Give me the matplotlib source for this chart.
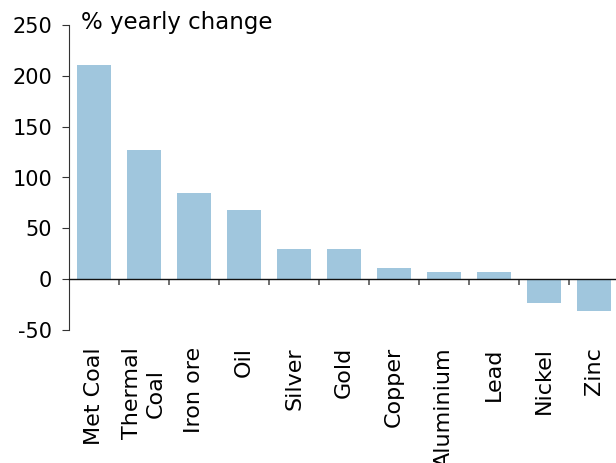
import matplotlib.pyplot as plt
import numpy as np

# commodities and their % yearly change
categorias = ['Met Coal', 'Thermal\nCoal', 'Iron ore', 'Oil', 'Silver', 'Gold',
              'Copper', 'Aluminium', 'Lead', 'Nickel', 'Zinc']
valores = [211, 127, 85, 68, 30, 30, 11, 7, 7, -23, -31]
y_ticks = [-50, 0, 50, 100, 150, 200, 250]

plt.rcParams['font.family'] = 'DejaVu Sans'

fig = plt.figure(figsize=(6.16, 4.63), dpi=100)
ax = fig.add_axes([69 / 616, 1 - 330 / 463, 550 / 616, 305 / 463])

x = np.arange(len(categorias))
ax.bar(x, valores, width=0.68, color='#a0c6dd', zorder=1)

ax.set_xlim(-0.5, len(categorias) - 0.5)
ax.set_ylim(-50, 250)

# ticks between categories on the zero line, labels placed below the plot
ax.tick_params(axis='x', which='major', length=0, pad=49, labelsize=16,
               labelrotation=90)
ax.tick_params(axis='x', which='minor', length=4, width=1.2, color='#555555',
               direction='out')
ax.tick_params(axis='y', length=5, width=0.8, color='#333333', pad=7,
               labelsize=15)

ax.set_yticks(y_ticks)
ax.set_yticklabels([str(v) for v in y_ticks])
ax.set_xticks(x + 0.5, minor=True)
ax.set_xticks(x)
ax.set_xticklabels(categorias, va='top', ha='center', linespacing=1.15)

for s in ['top', 'right']:
    ax.spines[s].set_visible(False)
ax.spines['bottom'].set_position(('data', 0))
ax.spines['bottom'].set_color('#111111')
ax.spines['bottom'].set_linewidth(1.0)
ax.spines['bottom'].set_zorder(3)
ax.spines['left'].set_color('#333333')
ax.spines['left'].set_linewidth(0.8)

fig.text(81 / 616, 1 - 11 / 463, '% yearly change', fontsize=16.5,
         ha='left', va='top')

fig.savefig('out.png', dpi=100)
